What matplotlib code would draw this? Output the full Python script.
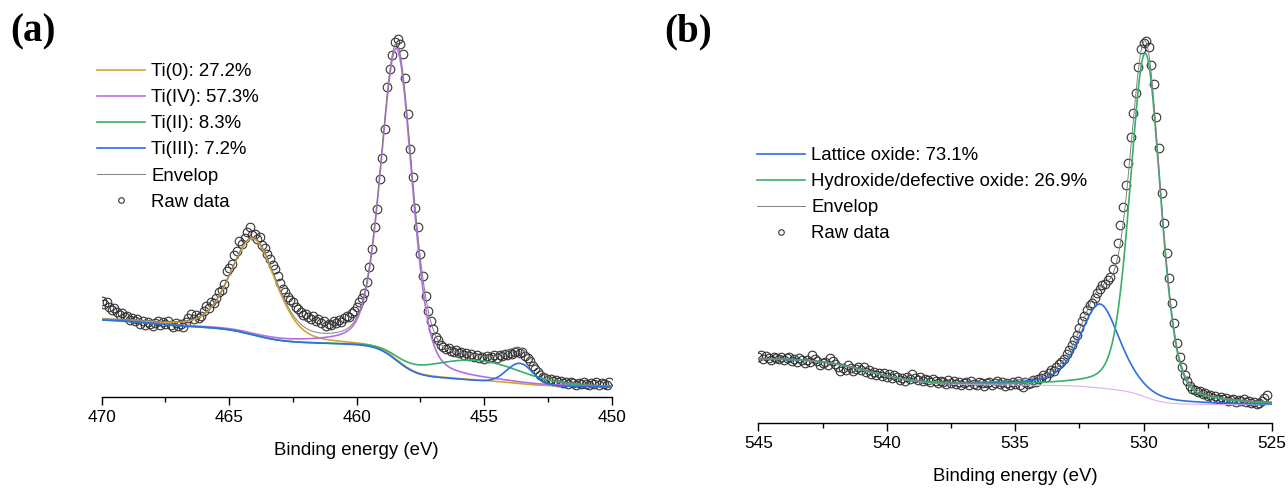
import numpy as np
import matplotlib
matplotlib.use("Agg")
import matplotlib.pyplot as plt
from matplotlib.ticker import MultipleLocator
from matplotlib.lines import Line2D

# ---- Ti 2p ----
# raw spectrum, 0.1 eV steps from 470.0 eV downwards (one row = 1 eV)
ti_start = 470.0
ti_raw = [
    9.6, 9.3, 9.5, 9.0, 8.7, 8.9, 8.5, 8.2, 8.4, 8.0,
    8.1, 7.7, 7.9, 7.6, 7.8, 7.3, 7.6, 7.2, 7.5, 7.3,
    7.1, 7.4, 7.6, 7.2, 7.5, 7.3, 7.6, 7.2, 7.0, 7.4,
    7.1, 7.3, 7.0, 7.5, 7.9, 8.3, 7.8, 8.2, 7.9, 8.1,
    8.6, 9.1, 8.9, 9.5, 9.4, 9.9, 10.5, 10.7, 11.3, 12.6,
    12.9, 13.3, 14.2, 14.6, 15.6, 15.3, 15.9, 16.5, 17.0, 16.2,
    16.3, 15.8, 16.0, 15.2, 14.9, 14.3, 13.8, 13.2, 12.8, 12.1,
    11.4, 10.8, 10.5, 10.0, 9.7, 9.5, 9.0, 8.8, 8.5, 8.2,
    8.3, 8.0, 7.8, 8.1, 7.6, 7.8, 7.4, 7.6, 7.1, 7.3,
    7.2, 7.6, 7.4, 7.7, 7.5, 7.9, 8.1, 8.0, 8.4, 8.6,
    9.0, 9.5, 9.9, 10.4, 11.5, 13.0, 14.8, 17.0, 18.8, 21.8,
    23.9, 26.8, 31.0, 32.8, 34.2, 35.5, 35.8, 35.3, 34.3, 31.9,
    28.3, 24.8, 22.0, 18.9, 17.0, 14.3, 12.1, 10.1, 8.6, 7.6,
    6.8, 6.0, 5.7, 5.2, 5.0, 4.8, 4.9, 4.6, 4.5, 4.7,
    4.4, 4.5, 4.2, 4.4, 4.1, 4.3, 4.0, 4.2, 3.9, 4.0,
    3.8, 4.1, 3.9, 4.0, 4.2, 3.9, 4.2, 4.1, 4.3, 4.2,
    4.4, 4.3, 4.5, 4.6, 4.4, 4.5, 4.1, 3.9, 3.6, 3.1,
    2.8, 2.5, 2.2, 2.0, 1.9, 1.7, 1.8, 1.6, 1.7, 1.5,
    1.6, 1.4, 1.5, 1.3, 1.5, 1.4, 1.2, 1.4, 1.3, 1.5,
    1.3, 1.2, 1.4, 1.3, 1.5, 1.2, 1.4, 1.3, 1.2, 1.5,
]
# fitted components: Ti(0), Ti(IV), Ti(II), Ti(III)
ti_center = [464.05, 458.43, 455.3, 453.6]
ti_fwhm = [2.1, 1.45, 4.2, 1.2]
ti_height = [9.6, 31.2, 2.0, 2.05]
ti_lor = [0.3, 0.3, 0.0, 0.0]
# background: level at 450 eV, slope, Shirley factor, loss step height/centre/width
ti_bg = [1.0, 0.03, 0.062, 0.6, 468.0, 1.5]
ti_labels = ["Ti(0): 27.2%", "Ti(IV): 57.3%", "Ti(II): 8.3%", "Ti(III): 7.2%"]
ti_colors = ["#D6A531", "#B46EE6", "#3AAE6A", "#2B6FE0"]

# ---- O 1s ----
o_start = 545.0
o_raw = [
    6.6, 6.8, 6.4, 6.7, 6.5, 6.3, 6.6, 6.5, 6.4, 6.6,
    6.3, 6.5, 6.6, 6.2, 6.4, 6.1, 6.5, 6.3, 6.0, 6.3,
    6.1, 6.8, 6.4, 6.2, 5.8, 6.0, 6.1, 5.8, 6.5, 6.2,
    5.9, 5.6, 5.2, 5.5, 5.3, 5.8, 5.5, 5.2, 5.4, 5.6,
    5.3, 5.6, 5.1, 5.3, 4.9, 5.1, 4.8, 5.0, 4.7, 5.0,
    4.6, 4.9, 4.5, 4.8, 4.6, 4.3, 4.5, 4.2, 4.6, 4.4,
    4.9, 4.5, 4.3, 4.6, 4.2, 4.4, 4.3, 4.1, 4.4, 4.2,
    4.0, 4.2, 4.1, 3.9, 4.3, 4.0, 4.2, 3.9, 4.1, 3.8,
    4.0, 4.1, 3.8, 4.2, 3.9, 3.8, 4.1, 4.0, 3.7, 4.0,
    4.1, 3.8, 4.0, 4.2, 3.9, 4.1, 3.7, 4.0, 3.8, 4.1,
    3.9, 4.2, 3.8, 3.6, 4.1, 3.9, 4.0, 4.3, 4.1, 4.4,
    4.5, 4.8, 4.6, 5.0, 5.3, 5.2, 5.6, 5.9, 6.1, 6.4,
    6.9, 7.3, 7.8, 8.3, 8.8, 9.5, 10.2, 10.7, 11.3, 11.8,
    12.0, 12.5, 13.0, 13.4, 13.8, 13.9, 14.3, 14.6, 15.4, 16.4,
    18.0, 19.8, 21.6, 23.8, 26.0, 28.6, 31.0, 33.0, 35.6, 37.4,
    38.0, 38.2, 37.6, 35.8, 33.9, 30.6, 27.5, 23.0, 20.0, 17.0,
    14.5, 12.0, 10.0, 8.0, 6.6, 5.6, 4.8, 4.2, 3.7, 3.4,
    3.3, 3.1, 3.2, 2.9, 3.0, 2.7, 2.8, 2.5, 2.7, 2.4,
    2.6, 2.4, 2.5, 2.2, 2.3, 2.4, 2.1, 2.3, 2.2, 2.4,
    2.1, 2.2, 2.0, 2.1, 1.9, 2.0, 2.2, 2.5, 2.8,
]
# fitted components: lattice oxide, hydroxide/defective oxide
o_center = [531.7, 529.93]
o_fwhm = [1.85, 1.4]
o_height = [8.4, 34.4]
o_lor = [0.5, 0.3]
# background: level at 525 eV, Shirley factor, loss step height/centre/width
o_bg = [1.8, 0.026, 2.6, 540.7, 1.9]
o_labels = ["Lattice oxide: 73.1%", "Hydroxide/defective oxide: 26.9%"]
o_colors = ["#2B6FE0", "#3AAE6A"]


def pv(e, c, w, a, m):
    # pseudo-Voigt line shape
    x = (e - c) / w
    return a * ((1 - m) * np.exp(-4 * np.log(2) * x ** 2) + m / (1 + 4 * x ** 2))


def cumint(e, y):
    return np.concatenate([[0], np.cumsum((y[1:] + y[:-1]) / 2 * np.diff(e))])


ea = np.arange(450.0, 470.001, 0.02)
pa = [pv(ea, c, w, a, m) for c, w, a, m in zip(ti_center, ti_fwhm, ti_height, ti_lor)]
bga = (ti_bg[0] + ti_bg[1] * (ea - 450) + ti_bg[2] * cumint(ea, sum(pa))
       + ti_bg[3] * 0.5 * (1 + np.tanh((ea - ti_bg[4]) / ti_bg[5])))
enva = bga + sum(pa)

eb = np.arange(525.0, 545.001, 0.02)
pb = [pv(eb, c, w, a, m) for c, w, a, m in zip(o_center, o_fwhm, o_height, o_lor)]
bgb = (o_bg[0] + o_bg[1] * cumint(eb, sum(pb))
       + o_bg[2] * 0.5 * (1 + np.tanh((eb - o_bg[3]) / o_bg[4])))
envb = bgb + sum(pb)

raw_ea = ti_start - 0.1 * np.arange(len(ti_raw))
raw_eb = o_start - 0.1 * np.arange(len(o_raw))

plt.rcParams["font.family"] = "Liberation Sans"
fig = plt.figure(figsize=(12.88, 4.88), dpi=100)
ax_a = fig.add_axes([101.7 / 1288, 91 / 488, 510 / 1288, 367 / 488])
ax_b = fig.add_axes([758.3 / 1288, 65.3 / 488, 513.7 / 1288, 392.7 / 488])


def style(ax, lo, hi, top):
    ax.set_xlim(lo, hi)
    ax.set_ylim(0, top)
    for s in ["left", "right", "top"]:
        ax.spines[s].set_visible(False)
    ax.spines["bottom"].set_linewidth(1.0)
    ax.set_yticks([])
    ax.xaxis.set_major_locator(MultipleLocator(5))
    ax.xaxis.set_minor_locator(MultipleLocator(2.5))
    ax.tick_params(axis="x", which="major", length=5.8, width=1.0, labelsize=12.4, pad=3.5)
    ax.tick_params(axis="x", which="minor", length=3.6, width=1.0)
    ax.set_xlabel("Binding energy (eV)", fontsize=13.4, labelpad=12.5)


def legend(ax, handles, x, y):
    ax.legend(handles=handles, loc="upper left", bbox_to_anchor=(x / 1288, 1 - y / 488),
              bbox_transform=fig.transFigure, frameon=False, fontsize=13.4,
              handlelength=2.6, handletextpad=0.32, labelspacing=0.49,
              borderpad=0, borderaxespad=0)


mk = dict(marker="o", ls="none", ms=6.2, mfc="none", mec="#333333", mew=0.8)

ax_a.plot(raw_ea, ti_raw, zorder=2, **mk)
for p, col in zip(pa, ti_colors):
    ax_a.plot(ea, bga + p, color=col, lw=1.2, zorder=3)
ax_a.plot(ea, enva, color="#808080", lw=0.7, zorder=4)
style(ax_a, 470, 450, 36.7)
ha = [Line2D([], [], color=c, lw=1.2, label=l) for c, l in zip(ti_colors, ti_labels)]
ha += [Line2D([], [], color="#808080", lw=0.7, label="Envelop"),
       Line2D([], [], label="Raw data", **dict(mk, ms=4))]
legend(ax_a, ha, 96.7, 63)

ax_b.plot(raw_eb, o_raw, zorder=2, **mk)
ax_b.plot(eb, bgb, color="#D9B0F0", lw=0.8, zorder=3)
for p, col in zip(pb, o_colors):
    ax_b.plot(eb, bgb + p, color=col, lw=1.2, zorder=3)
ax_b.plot(eb, envb, color="#808080", lw=0.7, zorder=4)
style(ax_b, 545, 525, 39.3)
hb = [Line2D([], [], color=c, lw=1.2, label=l) for c, l in zip(o_colors, o_labels)]
hb += [Line2D([], [], color="#808080", lw=0.7, label="Envelop"),
       Line2D([], [], label="Raw data", **dict(mk, ms=4))]
legend(ax_b, hb, 756.7, 147)

for x, t in [(10, "(a)"), (664, "(b)")]:
    fig.text(x / 1288, 1 - 41.7 / 488, t, fontsize=28, fontweight="bold",
             family="Liberation Serif", va="baseline")

fig.savefig("out.png", dpi=100)
